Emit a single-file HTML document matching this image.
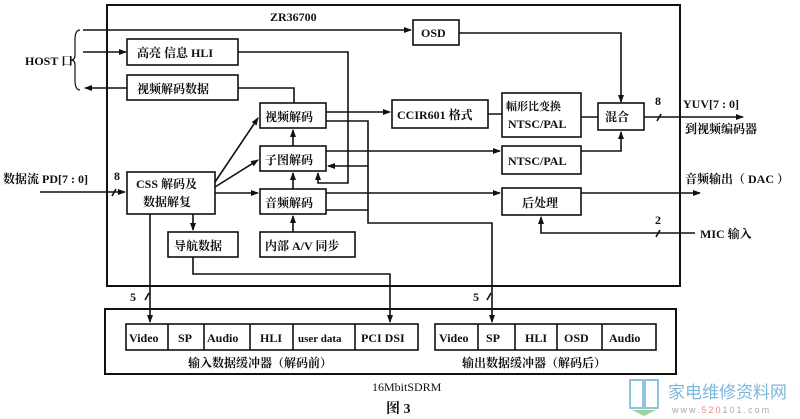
<!DOCTYPE html>
<html><head><meta charset="utf-8"><style>
html,body{margin:0;padding:0;background:#fff;}
svg{display:block;}
text{font-family:"Liberation Serif","Noto Serif CJK SC","Noto Sans CJK SC",serif;fill:#111;}
.b{font-weight:bold;}
</style></head><body>
<svg width="800" height="419" viewBox="0 0 800 419" xmlns="http://www.w3.org/2000/svg">
<defs><marker id="a" markerWidth="8" markerHeight="6" refX="7" refY="3" orient="auto" markerUnits="userSpaceOnUse"><path d="M0,0 L8,3 L0,6z" fill="#111"/></marker></defs>
<g fill="none" stroke="#111" stroke-width="1.6">
<rect x="107" y="5" width="573" height="281" stroke-width="2"/>
<rect x="127" y="39" width="111" height="26"/>
<rect x="127" y="75" width="111" height="25"/>
<rect x="413" y="20" width="46" height="25"/>
<rect x="260" y="103" width="66" height="25"/>
<rect x="260" y="146" width="66" height="25"/>
<rect x="260" y="189" width="66" height="25"/>
<rect x="127" y="172" width="88" height="42"/>
<rect x="168" y="232" width="70" height="25"/>
<rect x="260" y="232" width="95" height="25"/>
<rect x="392" y="100" width="96" height="28"/>
<rect x="502" y="93" width="79" height="44"/>
<rect x="598" y="103" width="46" height="27"/>
<rect x="502" y="146" width="79" height="28"/>
<rect x="502" y="188" width="79" height="27"/>
<rect x="105" y="309" width="571" height="65" stroke-width="2"/>
<rect x="126" y="324" width="292" height="26"/>
<path d="M168,324V350M204,324V350M250,324V350M293,324V350M355,324V350"/>
<rect x="435" y="324" width="221" height="26"/>
<path d="M478,324V350M515,324V350M557,324V350M602,324V350"/>
<path d="M80,30 Q75,30 75,40 V55 Q75,60 71,60 Q75,60 75,65 V80 Q75,90 80,90" stroke-width="1.2"/>
<path d="M83,30H411" marker-end="url(#a)"/>
<path d="M83,52H126" marker-end="url(#a)"/>
<path d="M127,88H85" marker-end="url(#a)"/>
<path d="M459,33H621V102" marker-end="url(#a)"/>
<path d="M238,52H348V183H318V173" marker-end="url(#a)"/>
<path d="M238,88H294V103"/>
<path d="M293,146V130" marker-end="url(#a)"/>
<path d="M293,189V173" marker-end="url(#a)"/>
<path d="M293,232V216" marker-end="url(#a)"/>
<path d="M193,214V230" marker-end="url(#a)"/>
<path d="M215,182L258,118" marker-end="url(#a)"/>
<path d="M215,187L258,160" marker-end="url(#a)"/>
<path d="M215,193H258" marker-end="url(#a)"/>
<path d="M40,192H125" marker-end="url(#a)"/>
<path d="M112,196l4,-7"/>
<path d="M326,112H390" marker-end="url(#a)"/>
<path d="M488,114H502M581,117H598"/>
<path d="M326,151H500" marker-end="url(#a)"/>
<path d="M581,151H621V132" marker-end="url(#a)"/>
<path d="M326,193H500" marker-end="url(#a)"/>
<path d="M581,193H700" marker-end="url(#a)"/>
<path d="M326,121H368V223H492V322" marker-end="url(#a)"/>
<path d="M368,166H328" marker-end="url(#a)"/>
<path d="M326,210H368"/>
<path d="M644,117H743" marker-end="url(#a)"/>
<path d="M657,121l4,-7"/>
<path d="M695,233H541V217" marker-end="url(#a)"/>
<path d="M656,237l4,-7"/>
<path d="M150,214V322" marker-end="url(#a)"/>
<path d="M145,300l4,-7"/>
<path d="M487,300l4,-7"/>
<path d="M193,257V274H390V322" marker-end="url(#a)"/>
</g>
<g font-size="12" class="b">
<text x="270" y="21" font-size="12">ZR36700</text>
<text x="25" y="65">HOST 口</text>
<text x="137" y="57">高亮 信息 HLI</text>
<text x="137" y="93">视频解码数据</text>
<text x="421" y="37">OSD</text>
<text x="265" y="121">视频解码</text>
<text x="265" y="164">子图解码</text>
<text x="265" y="207">音频解码</text>
<text x="136" y="188">CSS 解码及</text>
<text x="143" y="206">数据解复</text>
<text x="174" y="250">导航数据</text>
<text x="265" y="250">内部 A/V 同步</text>
<text x="397" y="119">CCIR601 格式</text>
<text x="506" y="110" font-size="11">幅形比变换</text>
<text x="508" y="128">NTSC/PAL</text>
<text x="605" y="121">混合</text>
<text x="508" y="165">NTSC/PAL</text>
<text x="522" y="207">后处理</text>
<text x="3" y="183">数据流 PD[7 : 0]</text>
<text x="114" y="180">8</text>
<text x="655" y="105">8</text>
<text x="683" y="108">YUV[7 : 0]</text>
<text x="685" y="133">到视频编码器</text>
<text x="685" y="183">音频输出（ DAC ）</text>
<text x="655" y="224">2</text>
<text x="700" y="238">MIC 输入</text>
<text x="130" y="301">5</text>
<text x="473" y="301">5</text>
<text x="129" y="342">Video</text>
<text x="178" y="342">SP</text>
<text x="207" y="342">Audio</text>
<text x="260" y="342">HLI</text>
<text x="298" y="342" font-size="11">user data</text>
<text x="361" y="342">PCI  DSI</text>
<text x="439" y="342">Video</text>
<text x="486" y="342">SP</text>
<text x="525" y="342">HLI</text>
<text x="564" y="342">OSD</text>
<text x="609" y="342">Audio</text>
<text x="188" y="367">输入数据缓冲器（解码前）</text>
<text x="462" y="367">输出数据缓冲器（解码后）</text>
<text x="372" y="391" font-weight="normal">16MbitSDRM</text>
<text x="386" y="413" font-size="14">图 3</text>
</g>
<g stroke="#8ec4e0" stroke-width="2" fill="none">
<rect x="630" y="380" width="13" height="28"/><rect x="645" y="380" width="13" height="28"/>
</g>
<path d="M632,410 H656 L644,416z" fill="#9cd39c"/>
<text x="668" y="398" font-size="17" style="fill:#7db7d8;font-family:'Noto Sans CJK SC',sans-serif">家电维修资料网</text>
<text x="672" y="413" font-size="9" style="fill:#aaa;font-family:'Liberation Sans',sans-serif;letter-spacing:2px">www.<tspan style="fill:#e88">520</tspan>101.com</text>
</svg>
</body></html>
